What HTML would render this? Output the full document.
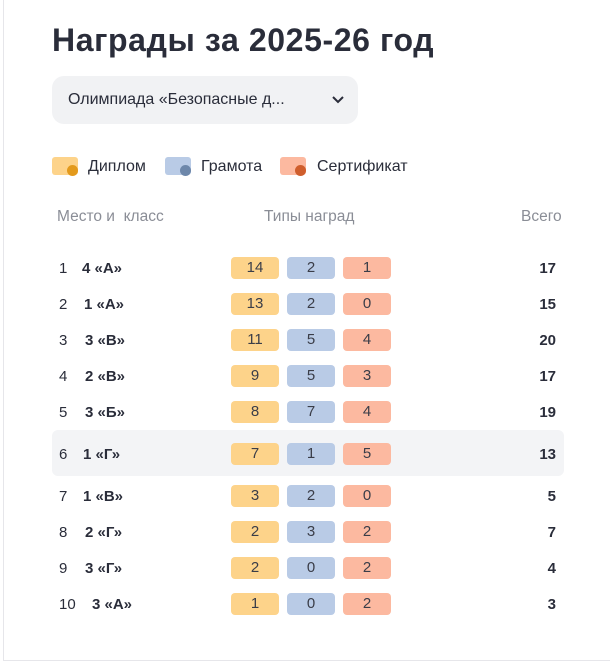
<!DOCTYPE html>
<html><head><meta charset="utf-8"><style>
body{margin:0;width:610px;height:662px;background:#fff;font-family:"Liberation Sans",sans-serif;color:#2a2d3a;position:relative;overflow:hidden}
.a{position:absolute}
.frame{left:3px;top:0;width:640px;height:660px;border-left:1px solid #e6e6ea;border-bottom:1px solid #e6e6ea}
h1{position:absolute;left:52px;top:22px;margin:0;font-size:32px;font-weight:bold;color:#2a2d3a;letter-spacing:0.6px}
.dd{left:52px;top:76px;width:306px;height:48px;background:#f1f2f4;border-radius:12px}
.dd span{position:absolute;left:16px;top:15px;font-size:16px}
.ic{position:absolute;width:26px;height:18px;border-radius:3px}
.md{position:absolute;width:11px;height:11px;border-radius:50%}
.hd{top:208px;font-size:15.5px;color:#8a8d96}
.row{position:absolute;left:52px;width:512px;height:36px}
.n{position:absolute;left:7px;top:11px;font-size:15px}
.c{position:absolute;top:11px;font-size:15px;font-weight:bold}
.b{position:absolute;top:8px;width:48px;height:22px;border-radius:4px;text-align:center;line-height:22px;font-size:15px;color:#3a3d48}
.t{position:absolute;right:8px;top:11px;font-size:15px;font-weight:bold}
</style></head><body>
<div class="a frame"></div>
<h1>Награды за 2025-26 год</h1>
<div class="a dd"><span>Олимпиада «Безопасные д...</span>
<svg class="a" style="left:280px;top:19px" width="12" height="10"><path d="M1 2 L6 7 L11 2" stroke="#2a2d3a" stroke-width="2" fill="none"/></svg></div>
<div class="a" style="left:52px;top:157px;width:420px;height:24px">
<div class="ic" style="left:0;top:0;background:#fdd38a"></div><div class="md" style="left:15px;top:8px;background:#e39a1c"></div>
<span class="a" style="left:36px;top:1px;font-size:16px">Диплом</span>
<div class="ic" style="left:113px;top:0;background:#b9cbe6"></div><div class="md" style="left:128px;top:8px;background:#6d87aa"></div>
<span class="a" style="left:149px;top:1px;font-size:16px">Грамота</span>
<div class="ic" style="left:228px;top:0;background:#fcb9a0"></div><div class="md" style="left:243px;top:8px;background:#cf5e2d"></div>
<span class="a" style="left:265px;top:1px;font-size:16px">Сертификат</span>
</div>
<div class="a hd" style="left:57px">Место и&nbsp; класс</div>
<div class="a hd" style="left:264px">Типы наград</div>
<div class="a hd" style="left:521px">Всего</div>
<div class="a" style="left:52px;top:430px;width:512px;height:46px;background:#f3f4f6;border-radius:6px"></div>

<div class="row" style="top:249px"><span class="n">1</span><span class="c" style="left:30px">4 «А»</span><div class="b" style="left:179px;background:#fdd38a">14</div><div class="b" style="left:235px;background:#b9cbe6">2</div><div class="b" style="left:291px;background:#fcb9a0">1</div><span class="t">17</span></div>
<div class="row" style="top:285px"><span class="n">2</span><span class="c" style="left:32px">1 «А»</span><div class="b" style="left:179px;background:#fdd38a">13</div><div class="b" style="left:235px;background:#b9cbe6">2</div><div class="b" style="left:291px;background:#fcb9a0">0</div><span class="t">15</span></div>
<div class="row" style="top:321px"><span class="n">3</span><span class="c" style="left:33px">3 «В»</span><div class="b" style="left:179px;background:#fdd38a">11</div><div class="b" style="left:235px;background:#b9cbe6">5</div><div class="b" style="left:291px;background:#fcb9a0">4</div><span class="t">20</span></div>
<div class="row" style="top:357px"><span class="n">4</span><span class="c" style="left:33px">2 «В»</span><div class="b" style="left:179px;background:#fdd38a">9</div><div class="b" style="left:235px;background:#b9cbe6">5</div><div class="b" style="left:291px;background:#fcb9a0">3</div><span class="t">17</span></div>
<div class="row" style="top:393px"><span class="n">5</span><span class="c" style="left:33px">3 «Б»</span><div class="b" style="left:179px;background:#fdd38a">8</div><div class="b" style="left:235px;background:#b9cbe6">7</div><div class="b" style="left:291px;background:#fcb9a0">4</div><span class="t">19</span></div>
<div class="row" style="top:435px"><span class="n">6</span><span class="c" style="left:31px">1 «Г»</span><div class="b" style="left:179px;background:#fdd38a">7</div><div class="b" style="left:235px;background:#b9cbe6">1</div><div class="b" style="left:291px;background:#fcb9a0">5</div><span class="t">13</span></div>
<div class="row" style="top:477px"><span class="n">7</span><span class="c" style="left:31px">1 «В»</span><div class="b" style="left:179px;background:#fdd38a">3</div><div class="b" style="left:235px;background:#b9cbe6">2</div><div class="b" style="left:291px;background:#fcb9a0">0</div><span class="t">5</span></div>
<div class="row" style="top:513px"><span class="n">8</span><span class="c" style="left:33px">2 «Г»</span><div class="b" style="left:179px;background:#fdd38a">2</div><div class="b" style="left:235px;background:#b9cbe6">3</div><div class="b" style="left:291px;background:#fcb9a0">2</div><span class="t">7</span></div>
<div class="row" style="top:549px"><span class="n">9</span><span class="c" style="left:33px">3 «Г»</span><div class="b" style="left:179px;background:#fdd38a">2</div><div class="b" style="left:235px;background:#b9cbe6">0</div><div class="b" style="left:291px;background:#fcb9a0">2</div><span class="t">4</span></div>
<div class="row" style="top:585px"><span class="n">10</span><span class="c" style="left:40px">3 «А»</span><div class="b" style="left:179px;background:#fdd38a">1</div><div class="b" style="left:235px;background:#b9cbe6">0</div><div class="b" style="left:291px;background:#fcb9a0">2</div><span class="t">3</span></div>
</body></html>
